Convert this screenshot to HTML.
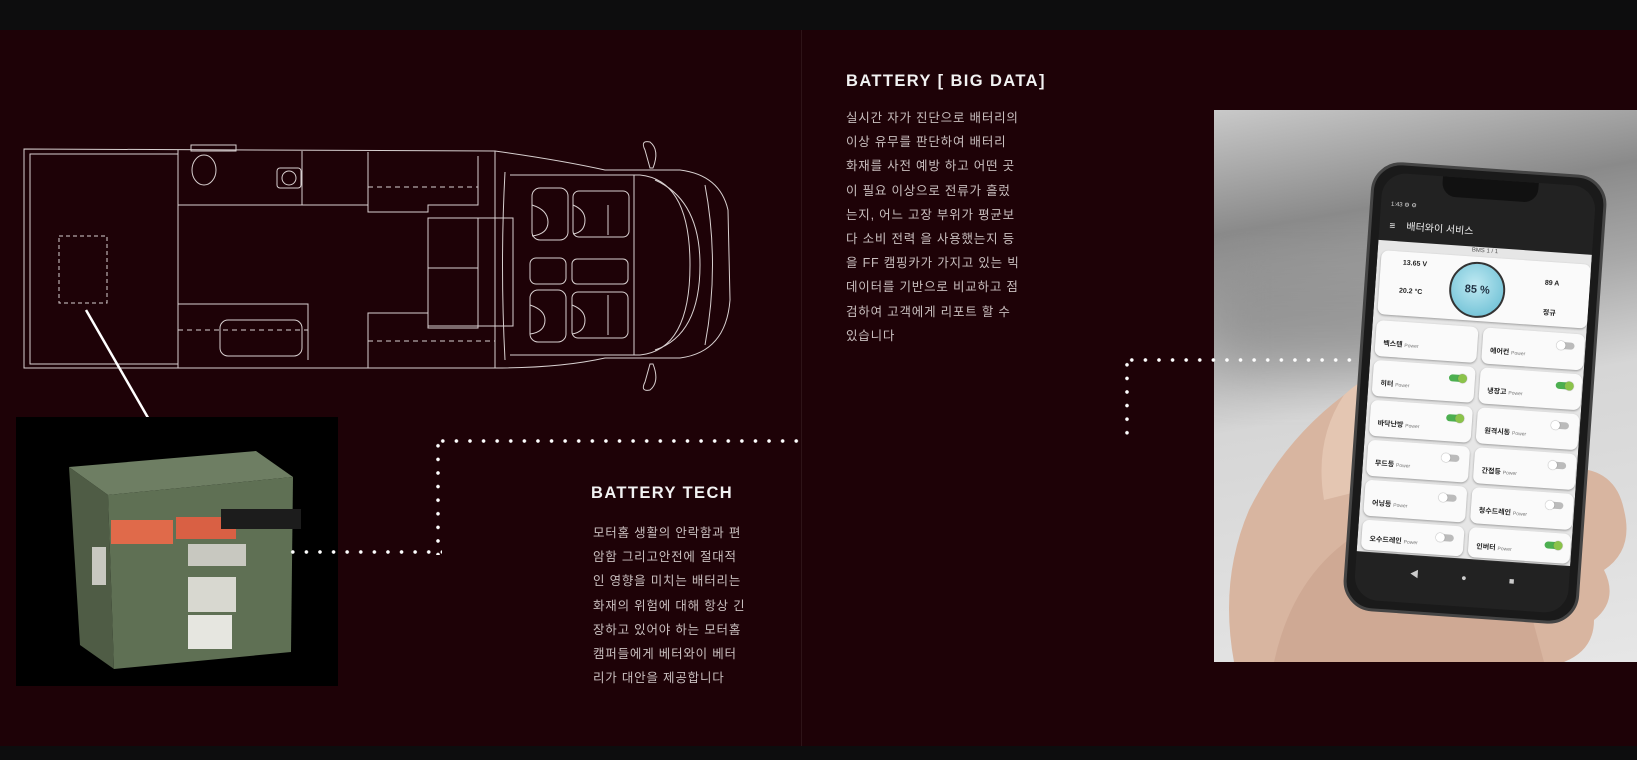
<!DOCTYPE html>
<html><head><meta charset="utf-8">
<style>
*{margin:0;padding:0;box-sizing:border-box}
body{width:1637px;height:760px;background:#1e0207;position:relative;overflow:hidden;font-family:"Liberation Sans","Noto Sans CJK KR",sans-serif;color:#ddd}
.bar{position:absolute;left:0;width:1637px;background:#0d0d0e}
h2{position:absolute;font-size:16.5px;font-weight:bold;letter-spacing:1.4px;color:#f2f2f2}
.p{position:absolute;font-size:12.5px;line-height:24.2px;color:#c9bfbf;letter-spacing:0.8px;white-space:pre}
.dh{position:absolute;height:4px;background-image:radial-gradient(circle,#fff 1.6px,transparent 2px);background-size:13.6px 4px}
.dv{position:absolute;width:4px;background-image:radial-gradient(circle,#fff 1.6px,transparent 2px);background-size:4px 13.6px}
.card{position:absolute;background:#fafafa;border-radius:7px;box-shadow:0 1px 2px #999;font-size:7px;font-weight:bold;color:#222}
.card span{color:#777;font-weight:normal;font-size:5px}
.tg{position:absolute;right:10px;top:9px;width:16px;height:7px;border-radius:4px;background:#bbb}
.tg.on{background:#4caf50}
.tg::after{content:"";position:absolute;top:-1px;width:9px;height:9px;border-radius:50%;background:#fff;box-shadow:0 0 1px #666;left:-2px}
.tg.on::after{left:9px;background:#8bc34a}
</style></head><body>
<div class="bar" style="top:0;height:30px"></div>
<div class="bar" style="top:746px;height:14px"></div>
<div style="position:absolute;left:801px;top:30px;width:1px;height:716px;background:#2e1418"></div>

<svg style="position:absolute;left:0;top:0" width="800" height="760">
<g fill="none" stroke="#d8d0d0" stroke-width="1">
<path d="M24 149 L495 151 Q560 160 605 170 L680 170 Q720 175 728 210 L730 300 Q726 352 680 358 L605 358 Q560 368 495 368 L24 368 Z"/>
<rect x="30" y="154" width="148" height="210"/>
<line x1="178" y1="150" x2="178" y2="368"/>
<rect x="191" y="145" width="45" height="6"/>
<ellipse cx="204" cy="170" rx="12" ry="15"/>
<rect x="277" y="168" width="24" height="20" rx="3"/><circle cx="289" cy="178" r="7"/>
<line x1="178" y1="205" x2="368" y2="205"/>
<line x1="302" y1="151" x2="302" y2="205"/>
<path d="M368 152 V212 H428 V205 H478 V156"/>
<line x1="368" y1="187" x2="478" y2="187" stroke-dasharray="5 4"/>
<rect x="428" y="218" width="50" height="110"/>
<rect x="428" y="218" width="85" height="108"/>
<line x1="428" y1="268" x2="478" y2="268"/>
<path d="M178 304 H308 V360"/>
<line x1="178" y1="330" x2="308" y2="330" stroke-dasharray="5 4"/>
<rect x="220" y="320" width="82" height="36" rx="8"/>
<path d="M368 368 V313 H428 V326"/>
<line x1="368" y1="341" x2="495" y2="341" stroke-dasharray="5 4"/>
<line x1="495" y1="151" x2="495" y2="368"/>
<path d="M505 172 Q500 265 505 360 M510 175 L640 175 Q690 180 690 265 Q690 350 640 355 L510 355"/>
<line x1="634" y1="175" x2="634" y2="355"/>
<path d="M655 180 Q700 200 700 265 Q700 335 655 350"/>
<path d="M705 185 Q720 265 705 345"/>
<rect x="532" y="188" width="36" height="52" rx="8"/><rect x="573" y="191" width="56" height="46" rx="6"/>
<path d="M532 205 Q548 210 548 222 Q548 234 532 236"/><path d="M573 205 Q585 210 585 220 Q585 232 573 234"/>
<rect x="530" y="258" width="36" height="26" rx="6"/><rect x="572" y="259" width="56" height="25" rx="5"/>
<rect x="530" y="290" width="36" height="52" rx="8"/><rect x="572" y="292" width="56" height="46" rx="6"/>
<path d="M530 305 Q545 310 545 320 Q545 332 530 334"/><path d="M572 305 Q585 310 585 320 Q585 332 572 334"/>
<line x1="608" y1="205" x2="608" y2="235"/><line x1="608" y1="295" x2="608" y2="335"/>
<path d="M645 150 Q640 140 650 142 Q660 150 653 168 L650 168 Z"/>
<path d="M645 382 Q640 392 650 390 Q660 382 653 364 L650 364 Z"/>
<rect x="59" y="236" width="48" height="67" stroke-dasharray="4 3"/>
</g>
<line x1="86" y1="310" x2="170" y2="456" stroke="#fff" stroke-width="2.5"/>
</svg>

<div style="position:absolute;left:16px;top:417px;width:322px;height:269px;background:#000"></div>
<svg style="position:absolute;left:16px;top:417px" width="322" height="269">
<polygon points="53,50 240,34 277,60 92,78" fill="#6e7e63"/>
<polygon points="53,50 92,78 98,252 64,228" fill="#4f5c45"/>
<polygon points="92,78 277,60 275,235 98,252" fill="#5f7054"/>
<rect x="95" y="103" width="62" height="24" fill="#e06a4a"/>
<rect x="160" y="100" width="60" height="22" fill="#d96044"/>
<rect x="205" y="92" width="80" height="20" fill="#1c1c1c"/>
<rect x="172" y="127" width="58" height="22" fill="#c8c8c0"/>
<rect x="172" y="160" width="48" height="35" fill="#d8d8d0"/>
<rect x="172" y="198" width="44" height="34" fill="#e6e6e0"/>
<rect x="76" y="130" width="14" height="38" fill="#c8c8c0"/>
</svg>

<div class="dh" style="left:286px;top:550px;width:156px"></div>
<div class="dv" style="left:436px;top:439px;height:116px"></div>
<div class="dh" style="left:436px;top:439px;width:366px"></div>

<h2 style="left:591px;top:484px">BATTERY TECH</h2>
<div class="p" style="left:593px;top:521px">모터홈 생활의 안락함과 편
암함 그리고안전에 절대적
인 영향을 미치는 배터리는
화재의 위험에 대해 항상 긴
장하고 있어야 하는 모터홈
캠퍼들에게 베터와이 베터
리가 대안을 제공합니다</div>

<h2 style="left:846px;top:72px">BATTERY [ BIG DATA]</h2>
<div class="p" style="left:846px;top:106px">실시간 자가 진단으로 배터리의
이상 유무를 판단하여 배터리
화재를 사전 예방 하고 어떤 곳
이 필요 이상으로 전류가 흘렀
는지, 어느 고장 부위가 평균보
다 소비 전력 을 사용했는지 등
을 FF 캠핑카가 가지고 있는 빅
데이터를 기반으로 비교하고 점
검하여 고객에게 리포트 할 수
있습니다</div>

<div style="position:absolute;left:1214px;top:110px;width:423px;height:552px;overflow:hidden;background:linear-gradient(170deg,#c9c9c9 0%,#8a8a8a 20%,#a8a8a8 35%,#d6d6d6 52%,#e6e6e6 100%)">
<div style="position:absolute;left:0;top:160px;width:300px;height:100px;background:#8a8a8a;filter:blur(25px);opacity:.6"></div>
<svg style="position:absolute;left:0;top:0" width="423" height="552">
<path d="M20 552 Q5 470 35 400 Q70 330 130 285 Q150 268 160 266 Q178 272 170 300 L160 360 L340 360 Q400 350 410 400 Q420 440 390 460 Q405 490 380 510 Q380 540 350 552 Z" fill="#d8b5a0"/>
<path d="M130 285 Q155 262 168 268 Q176 280 165 330 L150 380 L110 390 Q100 330 130 285 Z" fill="#e4c6b2"/>
<path d="M60 552 Q80 460 150 420 L300 440 L330 552 Z" fill="#cfa994"/>
</svg>
<div style="position:absolute;left:143px;top:58px;width:236px;height:450px;transform:rotate(4deg);background:#1a1a1a;border-radius:30px;border:3px solid #444">
 <div style="position:absolute;left:8px;top:8px;right:8px;bottom:8px;border-radius:24px;background:#222;overflow:hidden">
  <div style="position:absolute;left:60px;top:0;width:96px;height:20px;background:#111;border-radius:0 0 14px 14px"></div>
  <div style="position:absolute;left:10px;top:28px;font-size:6px;color:#ddd">1:43 ⚙ ⚙</div>
  <div style="position:absolute;left:10px;top:44px;font-size:10px;color:#eee">≡ &nbsp;&nbsp; 배터와이 서비스</div>
  <div style="position:absolute;left:0;top:68px;width:100%;height:312px;background:#e6e6e6">
   <div style="position:absolute;top:1px;width:100%;text-align:center;font-size:6px;color:#555">BMS 1 / 1</div>
   <div class="card" style="left:4px;top:10px;width:210px;height:64px">
    <div style="position:absolute;left:22px;top:8px">13.65 V</div>
    <div style="position:absolute;left:20px;top:36px">20.2 °C</div>
    <div style="position:absolute;left:165px;top:18px">89 A</div>
    <div style="position:absolute;left:165px;top:46px">정규</div>
    <div style="position:absolute;left:70px;top:5px;width:56px;height:56px;border-radius:50%;border:2px solid #333;background:radial-gradient(circle at 45% 40%,#bfe9f2,#5fb9d0);font-size:11px;text-align:center;line-height:52px;color:#234">85 %</div>
   </div>
   <div class="card" style="left:4px;top:80px;width:102px;height:36px;padding:18px 0 0 8px">벡스텐 <span>Power</span></div>
   <div class="card" style="left:111px;top:80px;width:102px;height:36px;padding:18px 0 0 8px">에어컨 <span>Power</span><i class="tg"></i></div>
   <div class="card" style="left:4px;top:120px;width:102px;height:36px;padding:18px 0 0 8px">히터 <span>Power</span><i class="tg on"></i></div>
   <div class="card" style="left:111px;top:120px;width:102px;height:36px;padding:18px 0 0 8px">냉장고 <span>Power</span><i class="tg on"></i></div>
   <div class="card" style="left:4px;top:160px;width:102px;height:36px;padding:18px 0 0 8px">바닥난방 <span>Power</span><i class="tg on"></i></div>
   <div class="card" style="left:111px;top:160px;width:102px;height:36px;padding:18px 0 0 8px">원격시동 <span>Power</span><i class="tg"></i></div>
   <div class="card" style="left:4px;top:200px;width:102px;height:36px;padding:18px 0 0 8px">무드등 <span>Power</span><i class="tg"></i></div>
   <div class="card" style="left:111px;top:200px;width:102px;height:36px;padding:18px 0 0 8px">간접등 <span>Power</span><i class="tg"></i></div>
   <div class="card" style="left:4px;top:240px;width:102px;height:36px;padding:18px 0 0 8px">어닝등 <span>Power</span><i class="tg"></i></div>
   <div class="card" style="left:111px;top:240px;width:102px;height:36px;padding:18px 0 0 8px">청수드레인 <span>Power</span><i class="tg"></i></div>
   <div class="card" style="left:4px;top:280px;width:102px;height:30px;padding:14px 0 0 8px">오수드레인 <span>Power</span><i class="tg"></i></div>
   <div class="card" style="left:111px;top:280px;width:102px;height:30px;padding:14px 0 0 8px">인버터 <span>Power</span><i class="tg on"></i></div>
  </div>
  <div style="position:absolute;left:0;top:392px;width:100%;text-align:center;font-size:9px;color:#ccc;word-spacing:40px">◀ ● ■</div>
 </div>
</div>
</div>
<div class="dh" style="left:1125px;top:358px;width:230px"></div>
<div class="dv" style="left:1125px;top:358px;height:86px"></div>
</body></html>
